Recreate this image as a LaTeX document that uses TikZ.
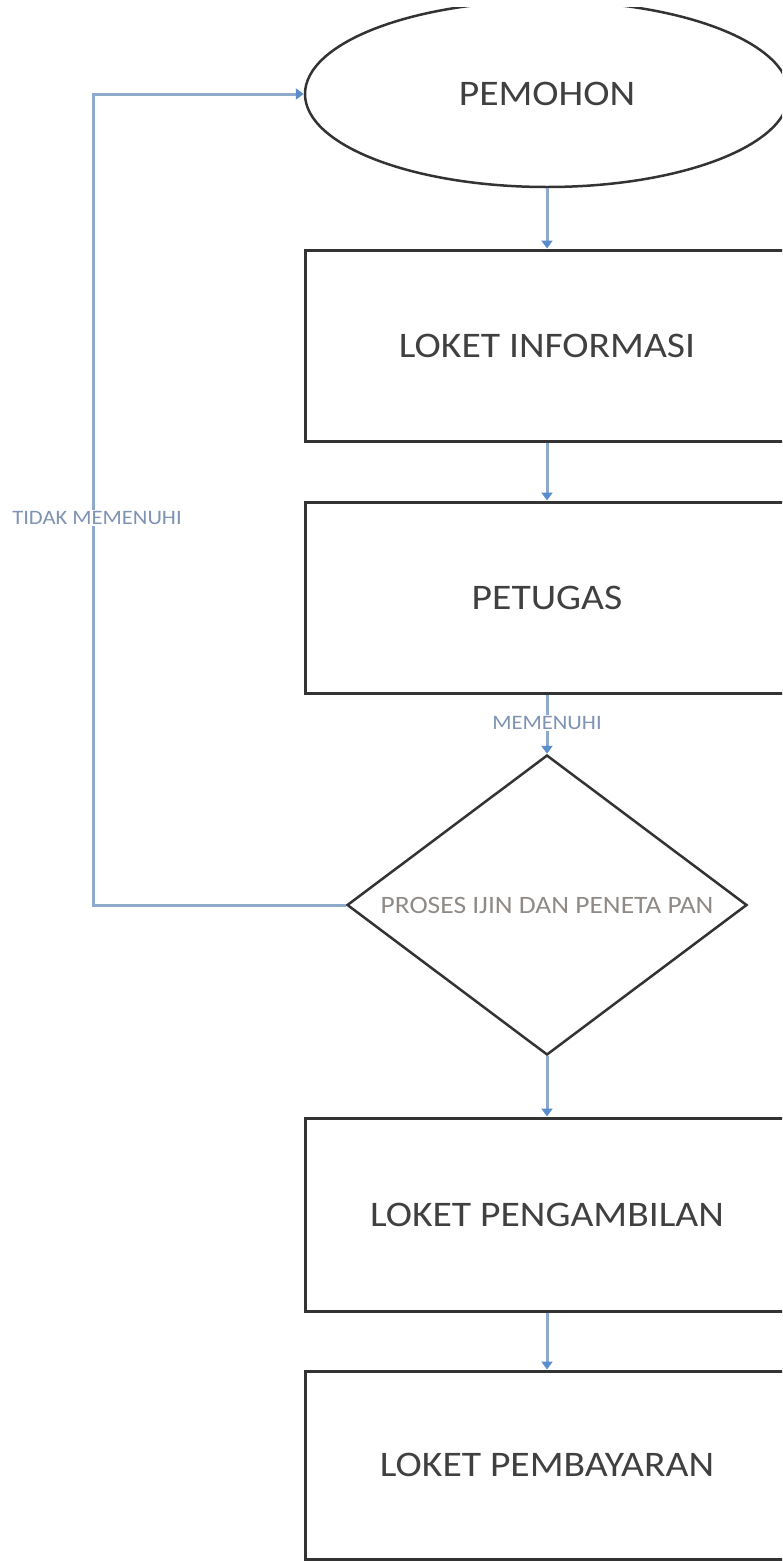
\documentclass[tikz,border=0pt]{standalone}
\usepackage{fontspec}
\setmainfont[FakeStretch=1.1]{Carlito}
\usetikzlibrary{arrows.meta,shapes.geometric}
\definecolor{linec}{HTML}{8DA9CC}
\definecolor{tipc}{HTML}{5B8CCB}
\definecolor{boxc}{HTML}{333333}
\definecolor{txtc}{HTML}{404040}
\definecolor{lblc}{HTML}{7F93B3}
\definecolor{dtxt}{HTML}{8F8A86}
\begin{document}
\begin{tikzpicture}[x=1pt,y=-1pt,
  stepbox/.style={draw=boxc,line width=3pt,rectangle,minimum width=484pt,minimum height=191pt,inner sep=0pt,text=txtc,font=\fontsize{36}{40}\selectfont},
  conn/.style={draw=linec,line width=3pt,-{Triangle[width=11pt,length=8pt,color=tipc]}},
  lbl/.style={fill=white,inner sep=1.5pt,text=lblc,font=\fontsize{20.5}{22}\selectfont}]
\useasboundingbox (0,0) rectangle (782,1561);
\clip (0,0) rectangle (782,1561);
\begin{scope}
  \clip (0,7) rectangle (782,1561);
  \node[ellipse,draw=boxc,line width=2.5pt,minimum width=484pt,minimum height=186pt,inner sep=0pt,text=txtc,font=\fontsize{36}{40}\selectfont] (pem) at (547,94) {PEMOHON};
\end{scope}
\node[stepbox] (info) at (547,345.5) {LOKET INFORMASI};
\node[stepbox] (pet) at (547,597.5) {PETUGAS};
\node[diamond,draw=boxc,line width=2.5pt,minimum width=400pt,minimum height=300pt,aspect=1.333,inner sep=0pt,text=dtxt,font=\fontsize{25}{27}\selectfont] (dec) at (547,905) {PROSES IJIN DAN PENETA PAN};
\node[stepbox,minimum height=193pt] (amb) at (547,1214.5) {LOKET PENGAMBILAN};
\node[stepbox,minimum height=188pt] (bay) at (547,1465) {LOKET PEMBAYARAN};
\coordinate (c1) at (93,905);
\coordinate (c2) at (93,94);
\draw[conn] (pem) -- (info);
\draw[conn] (info) -- (pet);
\draw[conn] (pet) -- (dec);
\draw[conn] (dec) -- (amb);
\draw[conn] (amb) -- (bay);
\draw[conn] (dec.west) -- (c1) -- (c2) -- (pem.west);
\node[lbl] (lmem) at (547,723) {MEMENUHI};
\node[lbl] (ltid) at (97,518) {TIDAK MEMENUHI};
\end{tikzpicture}
\end{document}
